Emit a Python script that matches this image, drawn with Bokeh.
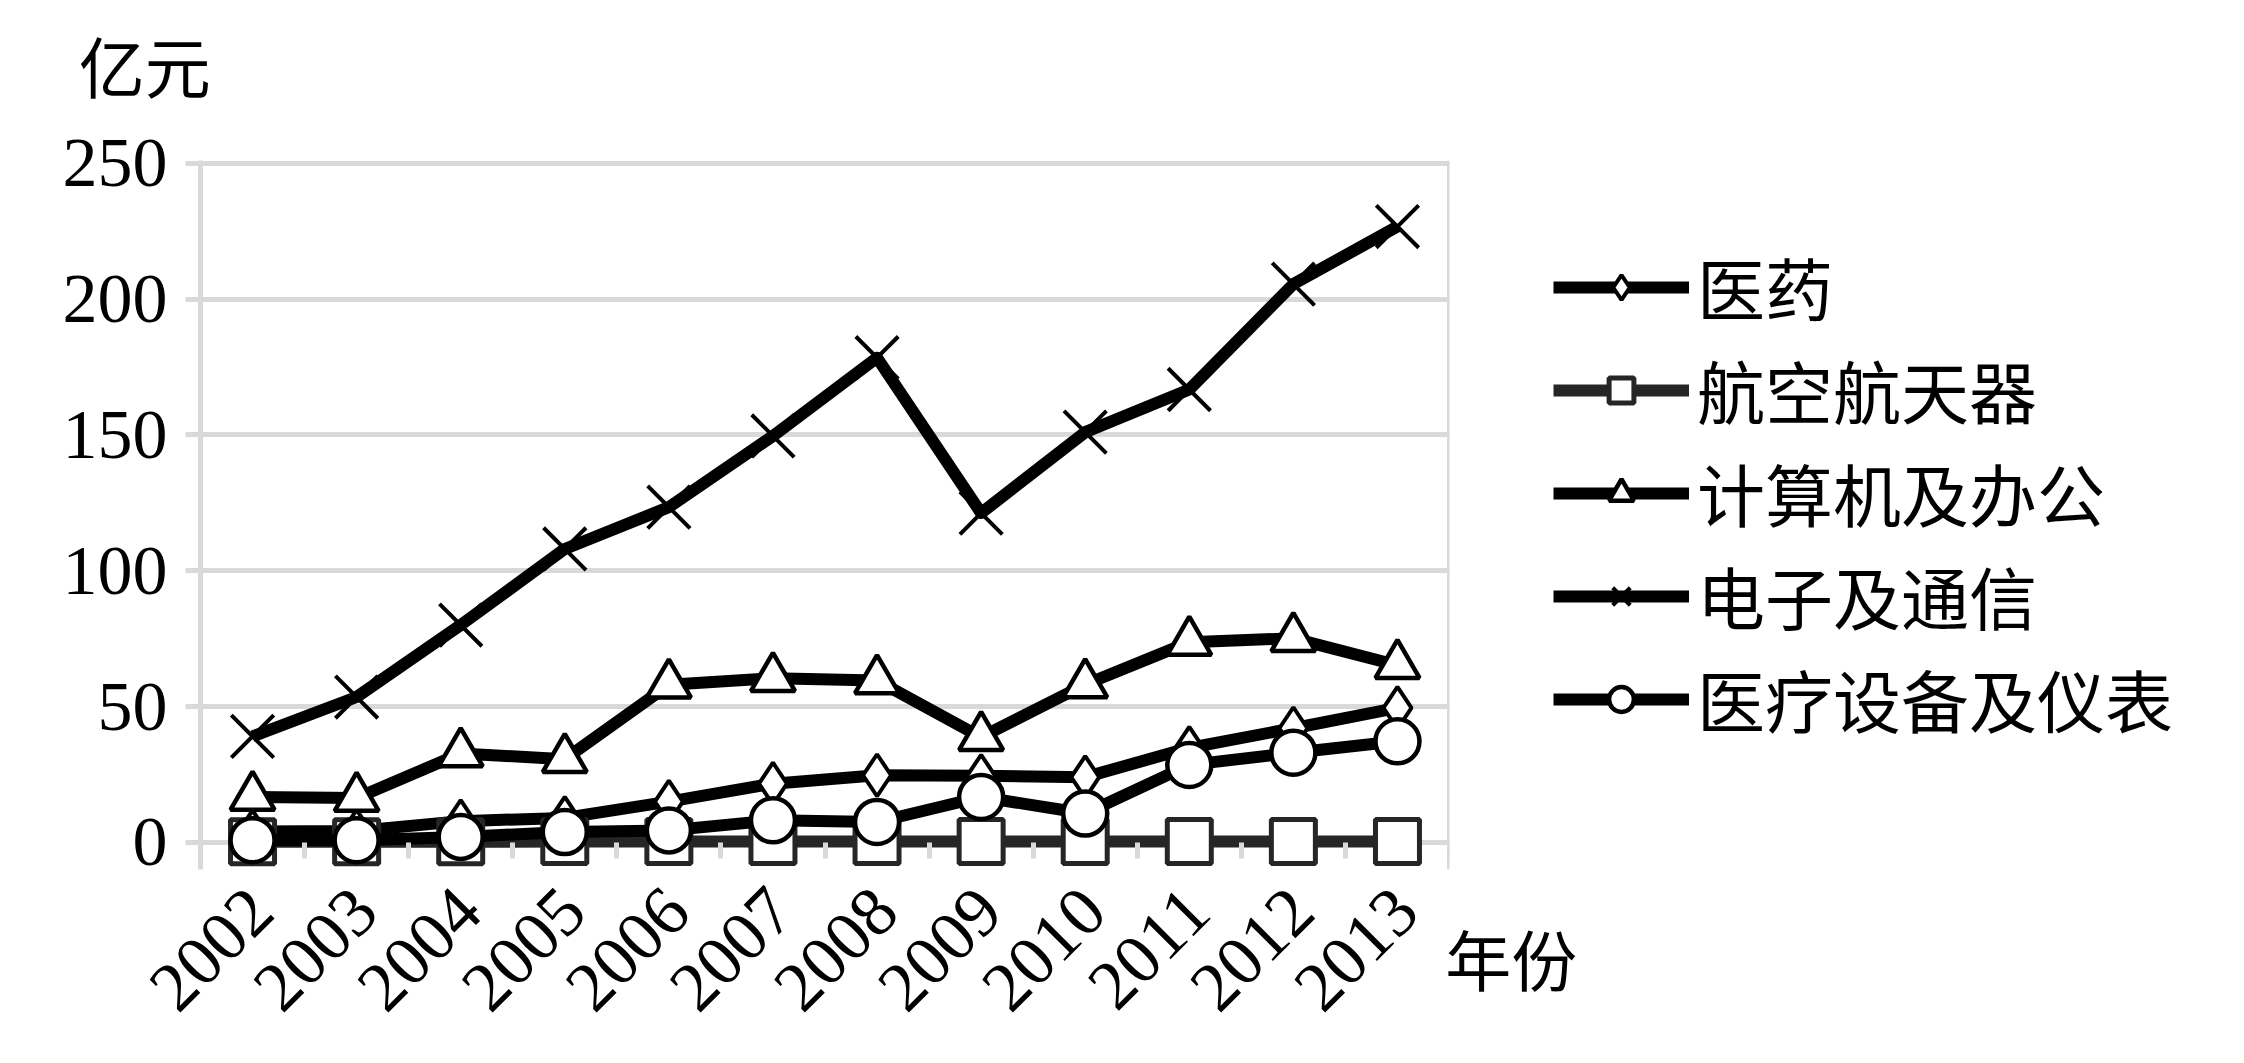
import math
from bokeh.plotting import figure
from bokeh.models import (FactorRange, Range1d, LinearAxis, FixedTicker, CustomJSTickFormatter,
                          Legend, LegendItem, Label, Span)
from bokeh.embed import file_html
from bokeh.resources import INLINE

# ---------------- data ----------------
years = ["2002", "2003", "2004", "2005", "2006", "2007", "2008", "2009", "2010", "2011", "2012", "2013"]
series_names = ["医药", "航空航天器", "计算机及办公", "电子及通信", "医疗设备及仪表"]
yiyao = [4.0, 4.2, 7.8, 9.0, 15.0, 21.6, 24.7, 24.5, 24.0, 34.8, 42.0, 49.5]
hangkong = [0.2, 0.2, 0.2, 0.3, 0.3, 0.3, 0.3, 0.3, 0.3, 0.3, 0.3, 0.3]
jisuanji = [16.7, 16.3, 32.7, 30.6, 58.0, 60.4, 59.6, 38.7, 58.1, 73.7, 75.1, 65.2]
dianzi = [39.0, 53.5, 80.0, 108.0, 123.4, 149.6, 178.4, 121.2, 151.0, 166.7, 205.5, 226.7]
yiliao = [0.8, 0.8, 2.0, 3.8, 4.4, 8.1, 7.5, 16.7, 10.6, 28.5, 33.0, 37.2]
y_ticks = [0, 50, 100, 150, 200, 250]
y_unit = "亿元"
x_unit = "年份"

GRID = "#d9d9d9"
DIGIT_FONT = "Liberation Serif"
CJK_FONT = "Noto Sans CJK SC"

p = figure(frame_width=1249, frame_height=709,
           x_range=FactorRange(*years), y_range=Range1d(-10, 251),
           x_axis_location=None,
           output_backend="svg", toolbar_location=None,
           min_border_left=200, min_border_right=0,
           min_border_top=160, min_border_bottom=150)
p.outline_line_color = None
p.background_fill_color = "white"
p.border_fill_color = "white"
for g in p.grid:
    if g.dimension == 0:
        g.visible = False

# x axis: year labels, slightly right of the category centres like the original
label_ticks = [i + 0.58 for i in range(len(years))]
xax = LinearAxis(ticker=FixedTicker(ticks=label_ticks, minor_ticks=[]),
                 formatter=CustomJSTickFormatter(args=dict(labels=years),
                                                 code="return labels[Math.floor(tick)]"))
xax.axis_line_color = None
xax.major_tick_line_color = None
xax.major_tick_out = 0
xax.major_tick_in = 0
xax.minor_tick_line_color = None
xax.major_label_orientation = math.pi / 4
xax.major_label_text_font = DIGIT_FONT
xax.major_label_text_font_size = "70px"
xax.major_label_text_color = "black"
xax.major_label_standoff = 30
p.add_layout(xax, "below")

# y axis
yax = p.left[0]
yax.ticker = FixedTicker(ticks=y_ticks, minor_ticks=[])
yax.axis_line_color = GRID
yax.axis_line_width = 5
yax.major_tick_line_color = GRID
yax.major_tick_line_width = 5
yax.major_tick_out = 15
yax.major_tick_in = 0
yax.minor_tick_line_color = None
yax.major_label_text_font = DIGIT_FONT
yax.major_label_text_font_size = "70px"
yax.major_label_text_color = "black"
yax.major_label_standoff = 18
p.ygrid.grid_line_color = GRID
p.ygrid.grid_line_width = 5

# boundary ticks along the zero line (category edges in the factor range's synthetic units)
tick_axis = LinearAxis(fixed_location=0,
                       ticker=FixedTicker(ticks=list(range(len(years) + 1)), minor_ticks=[]),
                       formatter=CustomJSTickFormatter(code="return ''"))
tick_axis.axis_line_color = None
tick_axis.major_tick_line_color = GRID
tick_axis.major_tick_line_width = 5
tick_axis.major_tick_in = 16
tick_axis.major_tick_out = 0
tick_axis.minor_tick_line_color = None
tick_axis.major_label_text_font_size = "1px"
tick_axis.major_label_standoff = 0
p.add_layout(tick_axis, "above")

# right border of the plot area
p.add_layout(Span(location=len(years), dimension="height", line_color=GRID, line_width=5))

# series
specs = [
    (yiyao, "diamond", 42, "black", 4),
    (hangkong, "square", 44, "#262626", 5),
    (jisuanji, "triangle", 44, "black", 4.5),
    (dianzi, "x", 60, "black", 4),
    (yiliao, "circle", 44, "black", 4.5),
]
items = []
for name, (vals, marker, size, color, mlw) in zip(series_names, specs):
    lr = p.line(years, vals, line_color=color, line_width=12, line_join="round")
    sr = p.scatter(years, vals, marker=marker, size=size, fill_color="white",
                   line_color=color, line_width=mlw)
    items.append(LegendItem(label=name, renderers=[lr, sr]))

legend = Legend(items=items, location=(104, 121), orientation="vertical",
                border_line_color=None, background_fill_alpha=0,
                padding=0, margin=0, spacing=4,
                glyph_width=136, glyph_height=62, label_height=80, label_standoff=8,
                label_text_font=CJK_FONT, label_text_font_size="68px",
                label_text_color="black")
p.add_layout(legend, "right")

# unit labels (placed in side panels so they are not clipped to the plot area)
p.add_layout(Label(x=-1.17, y=286.5, text=y_unit, text_font=CJK_FONT, text_font_size="66px",
                   text_baseline="middle", text_align="left", text_color="black"), "above")
p.add_layout(Label(x=11.96, y=-42.3, text=x_unit, text_font=CJK_FONT, text_font_size="66px",
                   text_baseline="middle", text_align="left", text_color="black"), "right")

open("out.html", "w").write(file_html(p, INLINE))
